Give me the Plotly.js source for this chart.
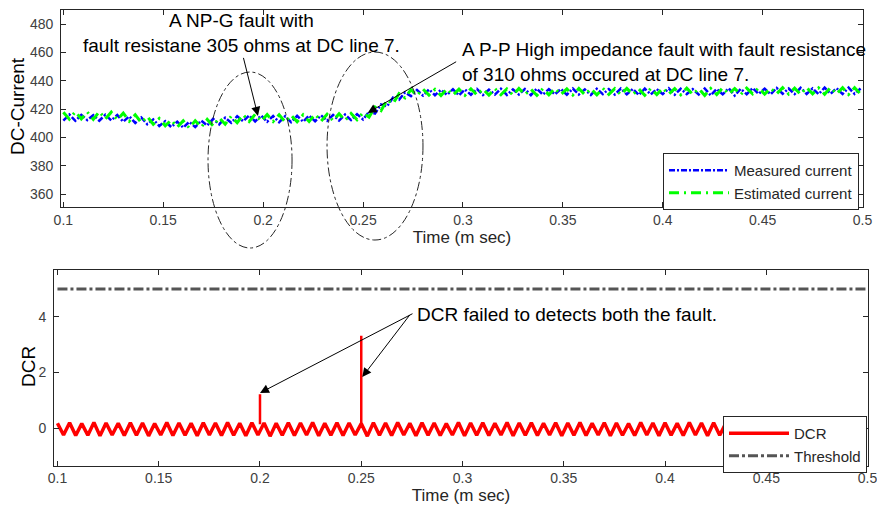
<!DOCTYPE html>
<html>
<head>
<meta charset="utf-8">
<script src="https://cdn.plot.ly/plotly-3.0.1.min.js"></script>
<style>html,body{margin:0;padding:0;background:#fff;}#chart{width:877px;height:510px;}</style>
</head>
<body>
<div id="chart"></div>
<script>
// ---- data ----
var timeSec = [0.100,0.103,0.106,0.109,0.112,0.115,0.118,0.121,0.124,0.127,
0.130,0.133,0.136,0.139,0.142,0.145,0.148,0.151,0.154,0.157,
0.160,0.163,0.166,0.169,0.172,0.175,0.178,0.181,0.184,0.187,
0.190,0.193,0.196,0.199,0.202,0.205,0.208,0.211,0.214,0.217,
0.220,0.223,0.226,0.229,0.232,0.235,0.238,0.241,0.244,0.247,
0.250,0.253,0.256,0.259,0.262,0.265,0.268,0.271,0.274,0.277,
0.280,0.283,0.286,0.289,0.292,0.295,0.298,0.301,0.304,0.307,
0.310,0.313,0.316,0.319,0.322,0.325,0.328,0.331,0.334,0.337,
0.340,0.343,0.346,0.349,0.352,0.355,0.358,0.361,0.364,0.367,
0.370,0.373,0.376,0.379,0.382,0.385,0.388,0.391,0.394,0.397,
0.400,0.403,0.406,0.409,0.412,0.415,0.418,0.421,0.424,0.427,
0.430,0.433,0.436,0.439,0.442,0.445,0.448,0.451,0.454,0.457,
0.460,0.463,0.466,0.469,0.472,0.475,0.478,0.481,0.484,0.487,
0.490,0.493,0.496,0.499];

var measuredCurrent = [412.0,416.2,411.8,416.0,412.3,415.8,411.9,416.1,412.1,415.9,
411.2,415.0,410.3,414.2,409.4,412.8,408.2,411.6,407.4,411.2,
407.0,411.1,407.4,412.0,408.5,413.2,409.3,414.0,410.4,415.1,
411.5,415.6,411.4,415.5,411.2,415.2,410.8,415.0,410.9,415.3,
411.2,415.5,411.5,415.7,411.8,416.0,412.0,416.2,412.3,416.5,
412.8,418.2,417.0,423.4,422.0,428.3,426.6,431.8,429.2,433.6,
429.6,434.0,429.9,433.7,430.1,434.1,429.8,433.9,430.2,434.3,
430.0,433.8,430.3,434.4,430.1,434.0,430.4,434.2,429.9,434.5,
430.3,434.1,430.5,434.3,430.2,434.6,430.4,434.0,430.1,434.4,
430.6,434.2,430.3,434.6,430.5,434.3,430.0,434.5,430.4,434.2,
430.6,434.7,430.3,434.4,430.7,434.1,430.4,434.6,429.8,434.3,
430.5,434.8,429.6,434.4,430.6,434.9,430.8,434.5,430.5,435.0,
430.9,434.6,430.7,435.1,430.8,434.7,430.6,435.2,430.9,434.8,
430.7,435.2,430.8,434.6];

var estimatedCurrent = [417.8,413.0,418.2,413.2,418.0,412.8,418.3,413.1,417.9,412.6,
417.2,411.5,416.0,410.6,414.8,409.4,413.5,408.3,412.4,407.4,
411.8,406.8,411.9,407.3,412.8,408.2,413.9,409.4,415.0,410.5,
416.0,411.3,416.4,411.5,416.2,411.3,416.0,411.0,415.8,411.1,
416.0,411.4,416.3,411.6,416.5,411.9,416.8,412.2,417.0,412.6,
417.5,414.5,421.5,419.0,426.5,424.0,431.0,428.0,433.8,429.8,
434.2,429.9,434.0,429.7,434.3,430.0,434.1,429.8,434.4,430.1,
434.2,429.9,434.5,430.2,434.3,430.0,434.6,430.3,434.1,429.8,
434.5,430.2,434.7,430.4,434.3,430.0,434.6,430.3,434.4,430.1,
434.8,430.5,434.5,430.2,434.7,430.4,434.3,429.9,434.6,430.3,
434.9,430.6,434.5,430.2,434.8,430.5,434.4,429.7,434.7,430.4,
435.0,430.7,434.6,430.3,434.9,430.8,435.1,430.6,434.7,430.9,
435.2,430.7,434.8,430.5,435.3,430.9,435.0,430.6,435.3,430.8,
435.1,430.4,435.2,430.7];

var dcrValues = [0.18,-0.24,0.20,-0.26,0.17,-0.25,0.21,-0.27,0.19,-0.24,
0.18,-0.26,0.20,-0.25,0.19,-0.27,0.17,-0.24,0.21,-0.26,
0.19,-0.25,0.18,-0.27,0.20,-0.24,0.19,-0.26,0.21,-0.25,
0.18,-0.27,0.20,-0.24,0.19,-0.28,0.18,-0.25,0.20,-0.26,
0.19,-0.24,0.21,-0.27,0.18,-0.25,0.20,-0.26,0.19,-0.24,
0.17,-0.28,0.20,-0.25,0.19,-0.26,0.21,-0.24,0.18,-0.27,
0.20,-0.25,0.19,-0.26,0.17,-0.24,0.21,-0.27,0.19,-0.25,
0.20,-0.26,0.18,-0.24,0.21,-0.27,0.19,-0.25,0.20,-0.26,
0.18,-0.24,0.20,-0.27,0.19,-0.25,0.21,-0.26,0.18,-0.24,
0.20,-0.27,0.19,-0.25,0.17,-0.26,0.21,-0.24,0.19,-0.27,
0.20,-0.25,0.18,-0.26,0.21,-0.24,0.19,-0.27,0.20,-0.25,
0.18,-0.26,0.20,-0.24,0.19,-0.27,0.21,-0.25,0.18,-0.26,
0.20,-0.24,0.19,-0.27,0.21,-0.25,0.18,-0.26,0.20,-0.24,
0.19,-0.27,0.20,-0.25];

var spikeTime = [0.2, 0.2, null, 0.25, 0.25];
var spikeValue = [0.15, 1.22, null, 0.17, 3.32];

var thresholdTime = [0.1, 0.5];
var thresholdValue = [5, 5];

var xTickVals = [0.1,0.15,0.2,0.25,0.3,0.35,0.4,0.45,0.5];
var xTickText = ["0.1","0.15","0.2","0.25","0.3","0.35","0.4","0.45","0.5"];
var yTopTicks = [360,380,400,420,440,460,480];
var yBotTicks = [0,2,4];

// ---- chart ----
var FONT = '"Liberation Sans", Arial, Helvetica, sans-serif';
var AX = '#262626';

var traces = [
  {x: timeSec, y: measuredCurrent, type:'scatter', mode:'lines', name:'Measured current',
   xaxis:'x', yaxis:'y', legend:'legend',
   line:{color:'#0000ff', width:2.5, dash:'6px,2px,2px,2px'}},
  {x: timeSec, y: estimatedCurrent, type:'scatter', mode:'lines', name:'Estimated current',
   xaxis:'x', yaxis:'y', legend:'legend',
   line:{color:'#00ff00', width:3, dash:'10px,5px,2px,5px'}},
  {x: timeSec, y: dcrValues, type:'scatter', mode:'lines', name:'DCR',
   xaxis:'x2', yaxis:'y2', legend:'legend2',
   line:{color:'#ff0000', width:3.5}},
  {x: spikeTime, y: spikeValue, type:'scatter', mode:'lines', name:'DCR spikes', showlegend:false,
   xaxis:'x2', yaxis:'y2', legend:'legend2', connectgaps:false,
   line:{color:'#ff0000', width:2.5}},
  {x: thresholdTime, y: thresholdValue, type:'scatter', mode:'lines', name:'Threshold',
   xaxis:'x2', yaxis:'y2', legend:'legend2',
   line:{color:'#555555', width:3, dash:'10px,3px,3px,3px'}}
];

function xax(domain, anchor, range){
  return {domain:domain, anchor:anchor, range:range, tickvals:xTickVals, ticktext:xTickText,
    ticks:'inside', ticklen:5, tickcolor:AX, mirror:'allticks', showline:true, linecolor:AX, linewidth:1,
    showgrid:false, zeroline:false, tickfont:{size:14, color:'#404040', family:FONT},
    ticklabeloverflow:'allow',
    title:{text:'Time (m sec)', font:{size:17, color:'#262626', family:FONT}, standoff:2}};
}
function yax(domain, anchor, range, ticks){
  return {domain:domain, anchor:anchor, range:range, tickvals:ticks,
    ticks:'inside', ticklen:5, tickcolor:AX, mirror:'allticks', showline:true, linecolor:AX, linewidth:1,
    showgrid:false, zeroline:false, tickfont:{size:14, color:'#404040', family:FONT},
    ticklabelstandoff:4, ticklabeloverflow:'allow'};
}

var layout = {
  width:877, height:510,
  margin:{l:0, r:0, t:0, b:0},
  paper_bgcolor:'#ffffff', plot_bgcolor:'#ffffff',
  font:{family:FONT, color:'#262626'},
  xaxis: xax([0.0696, 0.984], 'y', [0.09885, 0.5002]),
  yaxis: yax([0.5941, 0.9804], 'x', [351, 490], yTopTicks),
  xaxis2: xax([0.0616, 0.9897], 'y2', [0.0983, 0.5002]),
  yaxis2: yax([0.0869, 0.4706], 'x2', [-1.34, 5.68], yBotTicks),
  legend:{x:0.756, y:0.70, xanchor:'left', yanchor:'top', bgcolor:'#ffffff', bordercolor:AX, borderwidth:1,
    font:{size:15, family:FONT, color:'#262626'}, itemwidth:60, tracegroupgap:0},
  legend2:{x:0.8244, y:0.1843, xanchor:'left', yanchor:'top', bgcolor:'#ffffff', bordercolor:AX, borderwidth:1,
    font:{size:15, family:FONT, color:'#262626'}, itemwidth:60, tracegroupgap:0},
  shapes:[
    {type:'circle', xref:'paper', yref:'paper', x0:0.2372, x1:0.333, y0:0.5137, y1:0.8588,
     line:{color:AX, width:1, dash:'dashdot'}},
    {type:'circle', xref:'paper', yref:'paper', x0:0.3729, x1:0.4823, y0:0.5294, y1:0.898,
     line:{color:AX, width:1, dash:'dashdot'}}
  ],
  annotations:[
    // y-axis titles
    {xref:'paper', yref:'paper', x:17/877, y:(510-106)/510, xanchor:'center', yanchor:'middle',
     showarrow:false, textangle:-90, text:'DC-Current', font:{size:19, color:'#000000', family:FONT}},
    {xref:'paper', yref:'paper', x:28/877, y:(510-367)/510, xanchor:'center', yanchor:'middle',
     showarrow:false, textangle:-90, text:'DCR', font:{size:19, color:'#000000', family:FONT}},
    // notes
    {xref:'paper', yref:'paper', x:0.2759, y:0.935, xanchor:'center', yanchor:'middle', align:'center',
     showarrow:false, text:'A NP-G fault with<br>fault resistane 305 ohms at DC line 7.',
     font:{size:19, color:'#000000', family:FONT}},
    {xref:'paper', yref:'paper', x:0.5245, y:0.8794, xanchor:'left', yanchor:'middle', align:'left',
     showarrow:false, text:'A P-P High impedance fault with fault resistance<br>of 310 ohms occured at DC line 7.',
     font:{size:19, color:'#000000', family:FONT}},
    {xref:'paper', yref:'paper', x:0.4732, y:0.3824, xanchor:'left', yanchor:'middle', align:'left',
     showarrow:false, text:'DCR failed to detects both the fault.',
     font:{size:19, color:'#000000', family:FONT}},
    {xref:'x', yref:'y', x:0.1974, y:415.3, ax:-15, ay:-60, text:' ', font:{size:1},
     showarrow:true, arrowhead:2, arrowsize:1.8, arrowwidth:1, arrowcolor:'#000000', standoff:0},
    {xref:'x', yref:'y', x:0.2523, y:417.4, ax:90, ay:-52, text:' ', font:{size:1},
     showarrow:true, arrowhead:2, arrowsize:1.8, arrowwidth:1, arrowcolor:'#000000', standoff:0},
    {xref:'x2', yref:'y2', x:0.2, y:1.27, ax:154, ay:-80, text:' ', font:{size:1},
     showarrow:true, arrowhead:2, arrowsize:1.8, arrowwidth:1, arrowcolor:'#000000', standoff:0},
    {xref:'x2', yref:'y2', x:0.2505, y:1.84, ax:49, ay:-64, text:' ', font:{size:1},
     showarrow:true, arrowhead:2, arrowsize:1.8, arrowwidth:1, arrowcolor:'#000000', standoff:0}
  ]
};

Plotly.newPlot('chart', traces, layout, {staticPlot:true, displayModeBar:false});
</script>
</body>
</html>
